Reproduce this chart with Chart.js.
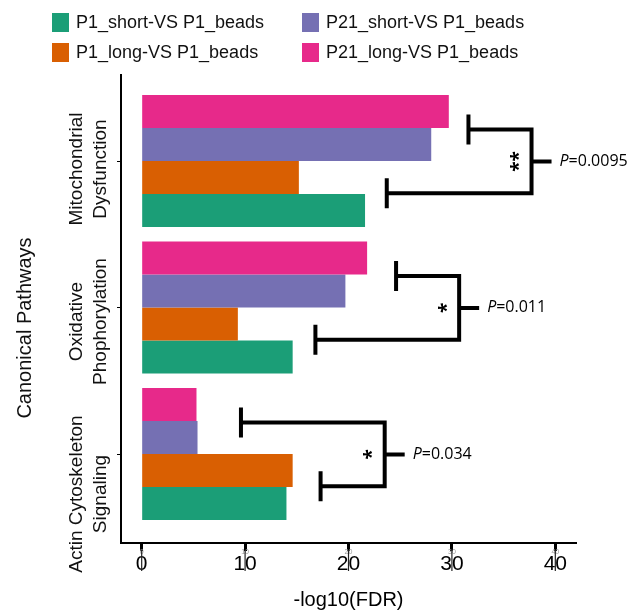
<!DOCTYPE html>
<html>
<head>
<meta charset="utf-8">
<script src="https://cdn.jsdelivr.net/npm/chart.js@4.4.0/dist/chart.umd.min.js"></script>
<style>
  html, body { margin: 0; padding: 0; background: #fff; }
  canvas { display: block; }
</style>
</head>
<body>
<canvas id="chart" width="630" height="612"></canvas>
<script>
const pathways = [['Mitochondrial', 'Dysfunction'], ['Oxidative', 'Phophorylation'], ['Actin Cytoskeleton', 'Signaling']];
const seriesLabels = ['P21_long-VS P1_beads', 'P21_short-VS P1_beads', 'P1_long-VS P1_beads', 'P1_short-VS P1_beads'];
const seriesColors = ['#E7298A', '#7570B3', '#D95F02', '#1B9E77'];
const p21Long = [29.7, 21.8, 5.3];
const p21Short = [28.0, 19.7, 5.4];
const p1Long = [15.2, 9.3, 14.6];
const p1Short = [21.6, 14.6, 14.0];
const seriesValues = [p21Long, p21Short, p1Long, p1Short];
const xTicks = [0, 10, 20, 30, 40];
const legendOrder = [3, 1, 2, 0];

// significance brackets (x in -log10(FDR) units)
const pValues = ['0.0095', '0.011', '0.034'];
const stars = ['**', '*', '*'];
const upperCapX = [31.6, 24.6, 9.6];
const lowerCapX = [23.7, 16.8, 17.3];
const bracketX = [37.7, 30.7, 23.5];

const FONT = '"Liberation Sans", Arial, sans-serif';

const overlay = {
  id: 'overlay',
  afterDraw(chart) {
    const { ctx, scales: { x, y } } = chart;
    ctx.save();

    // legend, two columns
    ctx.font = '18px ' + FONT;
    ctx.textBaseline = 'middle';
    ctx.textAlign = 'left';
    legendOrder.forEach((d, k) => {
      const bx = k % 2 ? 302 : 52;
      const by = k < 2 ? 23 : 53;
      ctx.fillStyle = seriesColors[d];
      ctx.fillRect(bx, by - 10, 17, 19);
      ctx.fillStyle = '#111';
      ctx.fillText(seriesLabels[d], bx + 24, by);
    });

    // category labels, rotated
    const labelShift = [8, 14, 40];
    ctx.font = '19px ' + FONT;
    ctx.textAlign = 'center';
    ctx.fillStyle = '#111';
    pathways.forEach((lines, i) => {
      const cy = y.getPixelForValue(i) + labelShift[i];
      lines.forEach((t, j) => {
        ctx.save();
        ctx.translate(77 + j * 24, cy);
        ctx.rotate(-Math.PI / 2);
        ctx.fillText(t, 0, 0);
        ctx.restore();
      });
    });

    // y title
    ctx.save();
    ctx.font = '20px ' + FONT;
    ctx.translate(25, 328);
    ctx.rotate(-Math.PI / 2);
    ctx.fillText('Canonical Pathways', 0, 0);
    ctx.restore();

    // small grey duplicate tick labels + thin tick extensions
    ctx.font = '7px ' + FONT;
    ctx.fillStyle = '#999';
    ctx.strokeStyle = '#222';
    ctx.lineWidth = 1.2;
    xTicks.forEach(v => {
      const px = x.getPixelForValue(v);
      ctx.fillText(String(v), px, 552);
      ctx.beginPath();
      ctx.moveTo(px, 550);
      ctx.lineTo(px, 571);
      ctx.stroke();
    });

    // brackets
    ctx.strokeStyle = '#000';
    ctx.fillStyle = '#000';
    ctx.lineWidth = 4;
    ctx.lineJoin = 'miter';
    pValues.forEach((p, i) => {
      const yTop = y.getPixelForValue(i - 0.215);
      const yBot = y.getPixelForValue(i + 0.22);
      const yMid = (yTop + yBot) / 2;
      const xr = x.getPixelForValue(bracketX[i]);
      const xu = x.getPixelForValue(upperCapX[i]);
      const xl = x.getPixelForValue(lowerCapX[i]);
      ctx.beginPath();
      ctx.moveTo(xu, yTop);
      ctx.lineTo(xr, yTop);
      ctx.lineTo(xr, yBot);
      ctx.lineTo(xl, yBot);
      ctx.moveTo(xu, yTop - 15);
      ctx.lineTo(xu, yTop + 15);
      ctx.moveTo(xl, yBot - 15);
      ctx.lineTo(xl, yBot + 15);
      ctx.moveTo(xr, yMid);
      ctx.lineTo(xr + 20, yMid);
      ctx.stroke();

      ctx.save();
      ctx.font = 'bold 19px "Open Sans", sans-serif';
      ctx.textAlign = 'center';
      ctx.translate(xr - 12, yMid);
      ctx.rotate(-Math.PI / 2);
      ctx.fillText(stars[i], 0, 0);
      ctx.restore();

      ctx.textAlign = 'left';
      const tx = xr + 28;
      ctx.font = 'italic 16px "Open Sans", sans-serif';
      ctx.fillText('P', tx, yMid);
      const w = ctx.measureText('P').width;
      ctx.font = '16px "Open Sans", sans-serif';
      ctx.fillText('=' + p, tx + w, yMid);
    });

    ctx.restore();
  }
};

new Chart(document.getElementById('chart'), {
  type: 'bar',
  data: {
    datasets: seriesLabels.map((label, d) => ({
      label: label,
      data: seriesValues[d].map((v, i) => ({ x: v, y: i })),
      backgroundColor: seriesColors[d],
      borderWidth: 0,
      categoryPercentage: 0.9,
      barPercentage: 1,
    }))
  },
  options: {
    indexAxis: 'y',
    responsive: false,
    animation: false,
    layout: { padding: { top: 75, right: 54, left: 0, bottom: 0 } },
    plugins: { legend: { display: false }, tooltip: { enabled: false } },
    scales: {
      x: {
        type: 'linear',
        min: -2,
        max: 42,
        afterBuildTicks: s => { s.ticks = xTicks.map(v => ({ value: v })); },
        afterFit: s => { s.height = 69; },
        grid: { drawOnChartArea: false, drawTicks: true, tickLength: 8, tickWidth: 3, tickColor: '#000' },
        border: { display: true, color: '#000', width: 2 },
        ticks: { color: '#000', font: { family: 'Liberation Sans', size: 21 }, padding: 1, maxRotation: 0, autoSkip: false },
        title: { display: true, text: '-log10(FDR)', color: '#000', font: { family: 'Liberation Sans', size: 20 }, padding: { top: 0, bottom: 0 } },
      },
      y: {
        type: 'linear',
        reverse: true,
        offset: false,
        min: -0.587,
        max: 2.607,
        afterBuildTicks: s => { s.ticks = pathways.map((_, i) => ({ value: i })); },
        afterFit: s => { s.width = 121; },
        grid: { offset: false, drawOnChartArea: false, drawTicks: true, tickLength: 4, tickWidth: 1, tickColor: '#000' },
        border: { display: true, color: '#000', width: 2 },
        ticks: { display: false },
      },
    },
  },
  plugins: [overlay],
});
</script>
</body>
</html>
